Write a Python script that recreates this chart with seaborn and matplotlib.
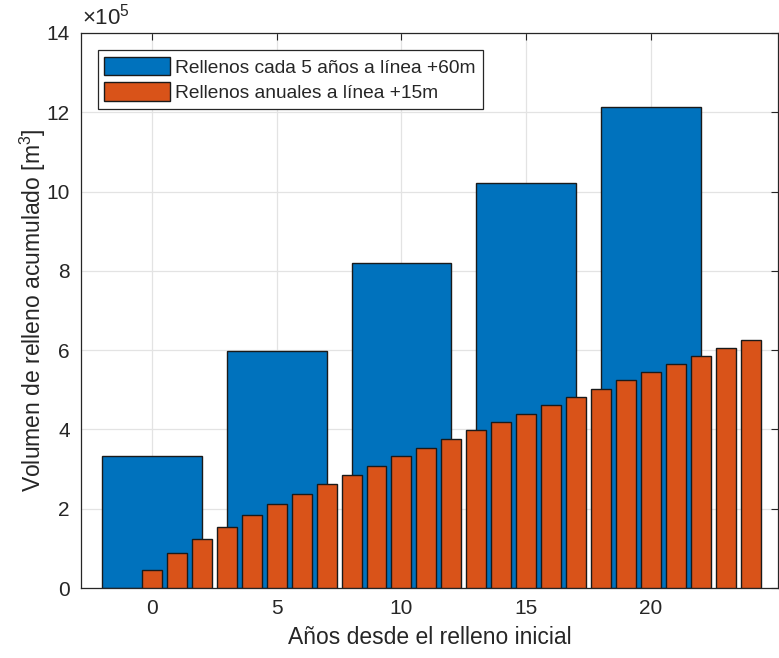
import numpy as np
import pandas as pd
import matplotlib
matplotlib.use("Agg")
import matplotlib.pyplot as plt
import seaborn as sns
from matplotlib.ticker import FuncFormatter, MultipleLocator

# Data
years_5 = [0, 5, 10, 15, 20]
vol_5 = [3.34e5, 5.99e5, 8.21e5, 10.21e5, 12.14e5]
years_1 = list(range(25))
vol_1 = [0.46e5, 0.88e5, 1.23e5, 1.53e5, 1.84e5, 2.11e5, 2.37e5, 2.62e5, 2.86e5, 3.09e5,
         3.32e5, 3.54e5, 3.76e5, 3.98e5, 4.19e5, 4.40e5, 4.61e5, 4.82e5, 5.03e5, 5.24e5,
         5.45e5, 5.65e5, 5.86e5, 6.06e5, 6.26e5]
label_5 = "Rellenos cada 5 años a línea +60m"
label_1 = "Rellenos anuales a línea +15m"
xlabel = "Años desde el relleno inicial"
ylabel = "Volumen de relleno acumulado [m$^3$]"
exponent_text = r"$\times10^5$"

sns.set_style("white")
plt.rcParams['font.family'] = ['Liberation Sans', 'DejaVu Sans']
plt.rcParams['mathtext.fontset'] = 'custom'
plt.rcParams['mathtext.rm'] = 'Liberation Sans'
plt.rcParams['mathtext.it'] = 'Liberation Sans'

fig = plt.figure(figsize=(7.79, 6.58), dpi=100)
ax = fig.add_axes([81/779, 70/658, (778-81)/779, (588-33)/658])

df5 = pd.DataFrame({"x": years_5, "y": vol_5})
df1 = pd.DataFrame({"x": years_1, "y": vol_1})

sns.barplot(data=df5, x="x", y="y", native_scale=True, width=0.8, color="#0072BD",
            saturation=1, edgecolor="#1a1a1a", linewidth=1.0, label=label_5, ax=ax, zorder=2)
sns.barplot(data=df1, x="x", y="y", native_scale=True, width=0.8, color="#D95319",
            saturation=1, edgecolor="#1a1a1a", linewidth=1.0, label=label_1, ax=ax, zorder=3)

ax.set_xlim(-2.85, 25.1)
ax.set_ylim(0, 14e5)
ax.set_xticks(years_5)
ax.set_xticklabels([str(v) for v in years_5])
ax.yaxis.set_major_locator(MultipleLocator(2e5))
ax.yaxis.set_major_formatter(FuncFormatter(lambda v, p: f"{v/1e5:.0f}"))
ax.text(0.002, 1.006, exponent_text, transform=ax.transAxes, fontsize=16,
        color="#262626", ha="left", va="bottom")

ax.grid(True, color="#e3e3e3", linewidth=0.9, zorder=0)
ax.set_axisbelow(True)
ax.tick_params(direction="in", top=True, right=True, length=5, width=0.8,
               labelsize=15, colors="#262626", pad=8)
for s in ax.spines.values():
    s.set_color("#262626")
    s.set_linewidth(0.9)

ax.set_xlabel(xlabel, fontsize=16.5, color="#262626", labelpad=6)
ax.set_ylabel(ylabel, fontsize=16.5, color="#262626")
ax.yaxis.set_label_coords(-0.047, 0.5)

leg = ax.legend(loc="upper left", bbox_to_anchor=(0.024, 0.969), fontsize=13.8,
                frameon=True, fancybox=False, edgecolor="#262626", framealpha=1,
                handlelength=3.4, handleheight=1.1, handletextpad=0.3,
                borderpad=0.35, labelspacing=0.3, borderaxespad=0)
leg.get_frame().set_linewidth(0.9)

fig.savefig("out.png", dpi=100)
